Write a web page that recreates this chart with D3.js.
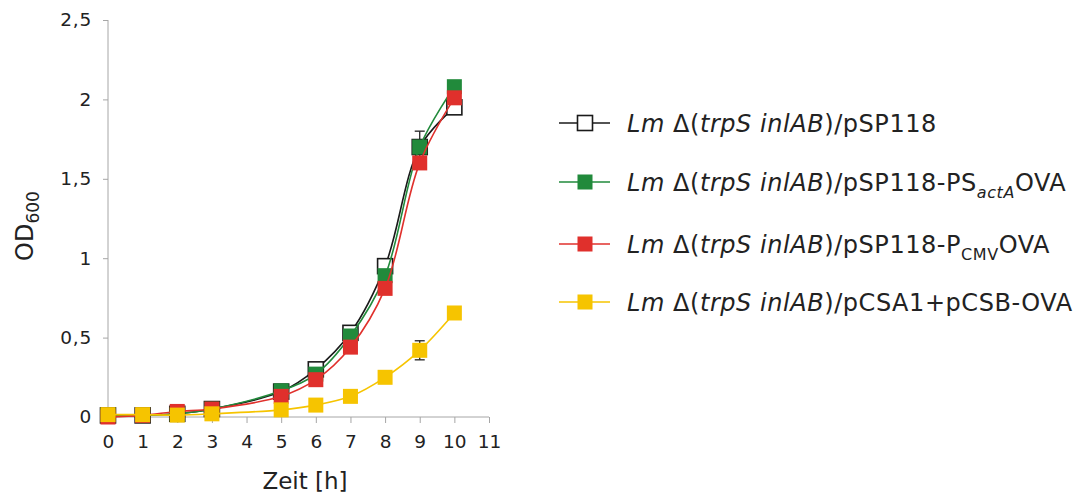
<!DOCTYPE html>
<html>
<head>
<meta charset="utf-8">
<script src="https://cdn.jsdelivr.net/npm/d3@7"></script>
<style>
  html, body { margin: 0; padding: 0; background: #fff; }
  svg { display: block; font-family: "DejaVu Sans", Verdana, sans-serif; }
</style>
</head>
<body>
<svg id="chart" width="1082" height="499"></svg>
<script>
// ---- data ----
const hours = [0, 1, 2, 3, 5, 6, 7, 8, 9, 10];
const xTicks = [0, 1, 2, 3, 4, 5, 6, 7, 8, 9, 10, 11];
const yTicks = [0, 0.5, 1, 1.5, 2, 2.5];
const yTickLabels = ["0", "0,5", "1", "1,5", "2", "2,5"];

const odEmpty  = [0.01, 0.01, 0.02, 0.05, 0.16, 0.30, 0.53, 0.95, 1.70, 1.95];
const odActA   = [0.01, 0.01, 0.02, 0.05, 0.165, 0.27, 0.51, 0.89, 1.70, 2.08];
const odCMV    = [0.00, 0.01, 0.035, 0.05, 0.13, 0.235, 0.44, 0.81, 1.60, 2.01];
const odCSA    = [0.015, 0.015, 0.012, 0.02, 0.045, 0.075, 0.13, 0.25, 0.42, 0.655];

const errEmpty = [0, 0, 0, 0, 0, 0, 0, 0, 0.10, 0];
const errActA  = [0, 0, 0, 0, 0, 0, 0, 0, 0, 0];
const errCMV   = [0, 0, 0, 0, 0, 0, 0, 0, 0, 0];
const errCSA   = [0, 0, 0, 0, 0, 0, 0, 0, 0.06, 0];

const seriesNames = ["pSP118", "pSP118-PSactAOVA", "pSP118-PCMVOVA", "pCSA1+pCSB-OVA"];
const seriesColors = ["#1a1a1a", "#218a3b", "#e0302c", "#f6c400"];
const seriesFills  = ["#ffffff", "#218a3b", "#e0302c", "#f6c400"];

// ---- layout ----
const svg = d3.select("#chart");
const x = d3.scaleLinear().domain([0, 11]).range([108, 489]);
const y = d3.scaleLinear().domain([0, 2.5]).range([417, 20]);
const axisColor = "#a6a6a6";

// y axis
const yAxis = d3.axisLeft(y).tickValues(yTicks).tickSize(5).tickPadding(11)
  .tickFormat((d, i) => yTickLabels[i]);
const gy = svg.append("g").attr("transform", "translate(108,0)").call(yAxis);
gy.select(".domain").attr("stroke", axisColor).attr("d", "M0,20V417");
gy.selectAll(".tick line").attr("stroke", axisColor);
gy.selectAll(".tick text").attr("fill", "#222").attr("font-size", 18.5)
  .attr("letter-spacing", 0.8).attr("font-family", "DejaVu Sans");

// x axis
const xAxis = d3.axisBottom(x).tickValues(xTicks).tickSize(6).tickPadding(12)
  .tickFormat(d3.format("d"));
const gx = svg.append("g").attr("transform", "translate(0,417)").call(xAxis);
gx.select(".domain").attr("stroke", axisColor).attr("d", "M108,0H489");
gx.selectAll(".tick line").attr("stroke", axisColor);
gx.selectAll(".tick text").attr("fill", "#222").attr("font-size", 18.5)
  .attr("font-family", "DejaVu Sans");

// axis titles
svg.append("text").attr("x", 305).attr("y", 489).attr("text-anchor", "middle")
  .attr("font-size", 23).attr("fill", "#222").text("Zeit [h]");

const yt = svg.append("text").attr("transform", "translate(33,226) rotate(-90)")
  .attr("text-anchor", "middle").attr("font-size", 24).attr("fill", "#222");
yt.append("tspan").text("OD");
yt.append("tspan").attr("font-size", 17).attr("dy", 6).text("600");

// ---- series ----
const allValues = [odEmpty, odActA, odCMV, odCSA];
const allErrs = [errEmpty, errActA, errCMV, errCSA];
const line = d3.line().x(d => x(d[0])).y(d => y(d[1])).curve(d3.curveCatmullRom.alpha(0.5));
const ms = 15;

allValues.forEach((vals, si) => {
  const pts = hours.map((h, i) => [h, vals[i], allErrs[si][i]]);
  const g = svg.append("g");
  g.append("path").datum(pts).attr("d", line).attr("fill", "none")
    .attr("stroke", seriesColors[si]).attr("stroke-width", 1.6);
  // error bars
  pts.filter(p => p[2] > 0).forEach(p => {
    const cx = x(p[0]);
    g.append("line").attr("x1", cx).attr("x2", cx).attr("y1", y(p[1] - p[2])).attr("y2", y(p[1] + p[2]))
      .attr("stroke", "#222").attr("stroke-width", 1.3);
    [p[1] - p[2], p[1] + p[2]].forEach(v => {
      g.append("line").attr("x1", cx - 5).attr("x2", cx + 5).attr("y1", y(v)).attr("y2", y(v))
        .attr("stroke", "#222").attr("stroke-width", 1.3);
    });
  });
  g.selectAll("rect").data(pts).join("rect")
    .attr("x", d => x(d[0]) - ms / 2).attr("y", d => y(d[1]) - ms / 2)
    .attr("width", ms).attr("height", ms)
    .attr("fill", seriesFills[si])
    .attr("stroke", si === 0 ? "#1a1a1a" : "none").attr("stroke-width", 1.6);
});

// ---- legend ----
const legendRows = [123, 182, 244, 302];
const legendParts = [
  [["/pSP118", false, 0]],
  [["/pSP118-PS", false, 0], ["actA", true, 1], ["OVA", false, -1]],
  [["/pSP118-P", false, 0], ["CMV", false, 1], ["OVA", false, -1]],
  [["/pCSA1+pCSB-OVA", false, 0]]
];
legendRows.forEach((ry, si) => {
  const g = svg.append("g");
  g.append("line").attr("x1", 559).attr("x2", 610).attr("y1", ry).attr("y2", ry)
    .attr("stroke", seriesColors[si]).attr("stroke-width", 1.6);
  g.append("rect").attr("x", 585 - 7.5).attr("y", ry - 7.5).attr("width", 15).attr("height", 15)
    .attr("fill", seriesFills[si]).attr("stroke", si === 0 ? "#1a1a1a" : "none").attr("stroke-width", 1.6);
  const t = g.append("text").attr("x", 627).attr("y", ry + 9).attr("font-size", 24)
    .attr("letter-spacing", 0.55).attr("fill", "#222");
  t.append("tspan").attr("font-style", "italic").text("Lm");
  t.append("tspan").text(" Δ(");
  t.append("tspan").attr("font-style", "italic").text("trpS inlAB");
  t.append("tspan").text(")");
  legendParts[si].forEach(([txt, ital, sub]) => {
    const ts = t.append("tspan").text(txt);
    if (ital) ts.attr("font-style", "italic");
    if (sub === 1) ts.attr("font-size", 16).attr("dy", 7);
    if (sub === -1) ts.attr("dy", -7);
  });
});
</script>
</body>
</html>
